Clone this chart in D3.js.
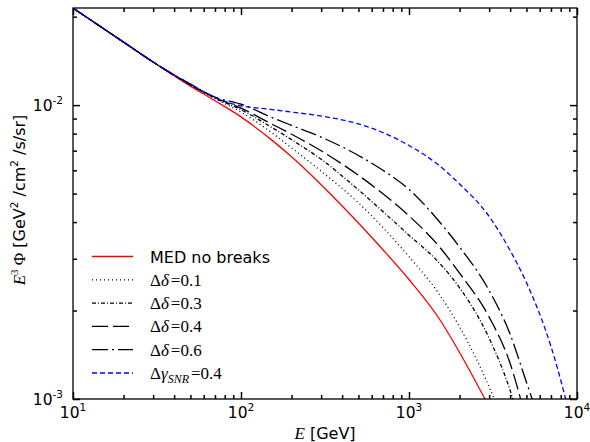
<!DOCTYPE html>
<html>
<head>
<meta charset="utf-8">
<script src="https://cdn.jsdelivr.net/npm/d3@7"></script>
<style>
  body { margin: 0; background: #fff; }
  svg { display: block; }
</style>
</head>
<body>
<svg id="chart" width="590" height="442"></svg>
<script>
// energies in GeV, flux values E^3 Phi
const energies    = [10, 20, 30, 50, 70, 100, 150, 200, 300, 500, 700, 1000, 1500, 2000, 3000, 4000, 5000, 7000, 10000];
const medNoBreaks = [0.02138, 0.01638, 0.01401, 0.01160, 0.01035, 0.00912, 0.00766, 0.00667, 0.00536, 0.00397, 0.00322, 0.00255, 0.00189, 0.00144, 0.00094, null, null, null, null];
const dDelta01    = [0.02138, 0.01638, 0.01401, 0.01170, 0.01052, 0.00947, 0.00811, 0.00715, 0.00596, 0.00465, 0.00383, 0.00305, 0.00229, 0.00176, 0.00110, 0.00073, null, null, null];
const dDelta03    = [0.02138, 0.01638, 0.01401, 0.01172, 0.01056, 0.00965, 0.00844, 0.00763, 0.00654, 0.00515, 0.00434, 0.00361, 0.00292, 0.00239, 0.00161, 0.00107, 0.00069, null, null];
const dDelta04    = [0.02138, 0.01638, 0.01401, 0.01174, 0.01060, 0.00977, 0.00866, 0.00796, 0.00699, 0.00577, 0.00499, 0.00420, 0.00332, 0.00268, 0.00190, 0.00132, 0.00084, null, null];
const dDelta06    = [0.02138, 0.01638, 0.01401, 0.01179, 0.01065, 0.01008, 0.00912, 0.00853, 0.00778, 0.00674, 0.00600, 0.00517, 0.00404, 0.00329, 0.00234, 0.00166, 0.00114, 0.00065, null];
const dGammaSNR   = [0.02138, 0.01638, 0.01401, 0.01179, 0.01060, 0.00995, 0.00967, 0.00947, 0.00918, 0.00863, 0.00806, 0.00729, 0.00625, 0.00539, 0.00418, 0.00320, 0.00249, 0.00151, 0.00070];

const xMajor = [10, 100, 1000, 10000];
const xMinor = [20, 30, 40, 50, 60, 70, 80, 90, 200, 300, 400, 500, 600, 700, 800, 900, 2000, 3000, 4000, 5000, 6000, 7000, 8000, 9000];
const yMajor = [1e-3, 1e-2];
const yMinor = [2e-3, 3e-3, 4e-3, 5e-3, 6e-3, 7e-3, 8e-3, 9e-3, 2e-2];

const svg = d3.select('#chart');
const x = d3.scaleLog().domain([10, 1e4]).range([73, 577]);
const y = d3.scaleLog().domain([1e-3, 0.0214]).range([399, 8]);

const series = [
  { values: medNoBreaks, color: '#ff0000', dash: null,       label: 'med' },
  { values: dDelta01,    color: '#000',    dash: '1,3',      label: '0.1' },
  { values: dDelta03,    color: '#000',    dash: '4,2,1,2',  label: '0.3' },
  { values: dDelta04,    color: '#000',    dash: '16,5',     label: '0.4' },
  { values: dDelta06,    color: '#000',    dash: '16,4,2,4', label: '0.6' },
  { values: dGammaSNR,   color: '#0000ff', dash: '5,3',      label: 'snr' }
];

svg.append('clipPath').attr('id', 'plot-clip')
  .append('rect').attr('x', 73).attr('y', 8).attr('width', 504).attr('height', 391);

const line = d3.line()
  .defined(d => d[1] != null)
  .x(d => x(d[0]))
  .y(d => y(d[1]))
  .curve(d3.curveMonotoneX);

const plot = svg.append('g').attr('clip-path', 'url(#plot-clip)');
series.forEach(s => {
  plot.append('path')
    .datum(energies.map((e, i) => [e, s.values[i]]))
    .attr('fill', 'none')
    .attr('stroke', s.color)
    .attr('stroke-width', 1.3)
    .attr('stroke-dasharray', s.dash)
    .attr('d', line);
});

// frame
svg.append('rect')
  .attr('x', 73).attr('y', 8).attr('width', 504).attr('height', 391)
  .attr('fill', 'none').attr('stroke', '#000').attr('stroke-width', 1.3);

// inward ticks on all four sides
function ticks(axisFn, scale, values, size, transform) {
  svg.append('g')
    .attr('transform', transform)
    .call(axisFn(scale).tickValues(values).tickSizeInner(-size).tickSizeOuter(0).tickFormat(''))
    .call(g => g.select('.domain').remove())
    .selectAll('line').attr('stroke', '#000').attr('stroke-width', 1.5);
}
ticks(d3.axisBottom, x, xMajor, 7, 'translate(0,399)');
ticks(d3.axisBottom, x, xMinor, 4, 'translate(0,399)');
ticks(d3.axisTop, x, xMajor, 7, 'translate(0,8)');
ticks(d3.axisTop, x, xMinor, 4, 'translate(0,8)');
ticks(d3.axisLeft, y, yMajor, 7, 'translate(73,0)');
ticks(d3.axisLeft, y, yMinor, 4, 'translate(73,0)');
ticks(d3.axisRight, y, yMajor, 7, 'translate(577,0)');
ticks(d3.axisRight, y, yMinor, 4, 'translate(577,0)');

const sans = 'DejaVu Sans, sans-serif';
const serif = 'Liberation Serif, DejaVu Serif, serif';

// tick labels, 10^n
xMajor.forEach(v => {
  const t = svg.append('text')
    .attr('x', x(v)).attr('y', 418)
    .attr('text-anchor', 'middle')
    .attr('font-family', sans).attr('font-size', 15.5);
  t.append('tspan').text('10');
  t.append('tspan').attr('dy', -7).attr('font-size', 10.5).text(Math.round(Math.log10(v)));
});
yMajor.forEach(v => {
  const t = svg.append('text')
    .attr('x', 63).attr('y', y(v) + 6)
    .attr('text-anchor', 'end')
    .attr('font-family', sans).attr('font-size', 15.5);
  t.append('tspan').text('10');
  t.append('tspan').attr('dy', -7).attr('font-size', 10.5).text(Math.round(Math.log10(v)));
});

// axis titles
const xt = svg.append('text')
  .attr('x', 325).attr('y', 439)
  .attr('text-anchor', 'middle')
  .attr('font-family', sans).attr('font-size', 16);
xt.append('tspan').attr('font-family', serif).attr('font-style', 'italic').attr('font-size', 17).text('E');
xt.append('tspan').text(' [GeV]');

const yt = svg.append('text')
  .attr('transform', 'translate(25,200) rotate(-90)')
  .attr('text-anchor', 'middle')
  .attr('font-family', sans).attr('font-size', 16);
yt.append('tspan').attr('font-family', serif).attr('font-style', 'italic').attr('font-size', 17).text('E');
yt.append('tspan').attr('font-family', serif).attr('dy', -7).attr('font-size', 11).text('3');
yt.append('tspan').attr('font-family', serif).attr('dy', 7).attr('font-size', 17).text(' Φ');
yt.append('tspan').text(' [GeV');
yt.append('tspan').attr('dy', -7).attr('font-size', 10.5).text('2');
yt.append('tspan').attr('dy', 7).text(' /cm');
yt.append('tspan').attr('dy', -7).attr('font-size', 10.5).text('2');
yt.append('tspan').attr('dy', 7).text(' /s/sr]');

// legend
const legend = svg.append('g');
series.forEach((s, i) => {
  const base = 262.5 + i * 23.3;
  legend.append('line')
    .attr('x1', 92).attr('x2', 133)
    .attr('y1', base - 6).attr('y2', base - 6)
    .attr('stroke', s.color).attr('stroke-width', 1.3)
    .attr('stroke-dasharray', s.dash);
  const t = legend.append('text').attr('x', 150).attr('y', base).attr('font-size', 17).attr('font-family', serif);
  if (s.label === 'med') {
    t.attr('font-family', sans).attr('font-size', 16).text('MED no breaks');
  } else if (s.label === 'snr') {
    t.append('tspan').text('Δ');
    t.append('tspan').attr('font-style', 'italic').text('γ');
    t.append('tspan').attr('font-style', 'italic').attr('font-size', 12).attr('dy', 4).text('SNR');
    t.append('tspan').attr('dy', -4).attr('dx', 2).text('=0.4');
  } else {
    t.append('tspan').text('Δ');
    t.append('tspan').attr('font-style', 'italic').text('δ');
    t.append('tspan').attr('dx', 2).text('=' + s.label);
  }
});
</script>
</body>
</html>
